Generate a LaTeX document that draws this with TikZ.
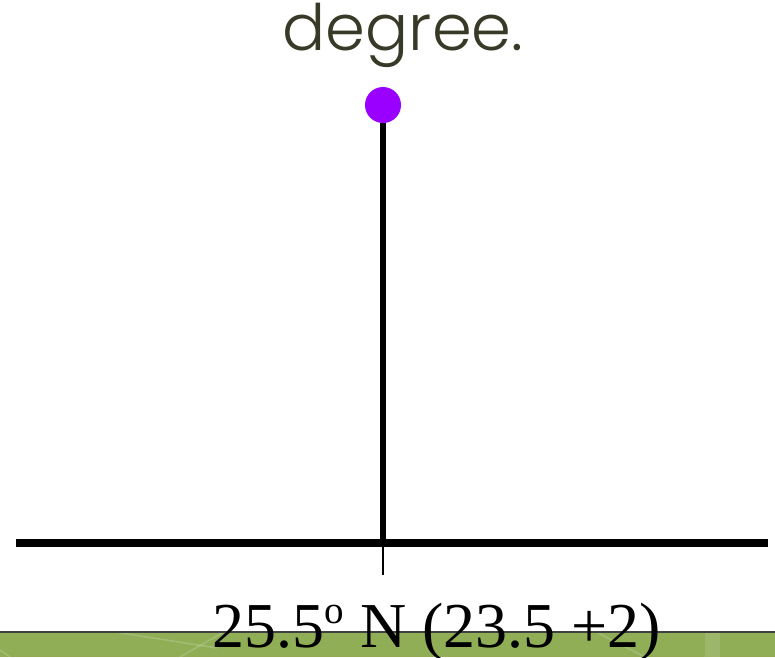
\documentclass[tikz,border=0pt]{standalone}
\usepackage{fontspec}
\usepackage{xcolor}
\usepackage{tikz}
\usetikzlibrary{positioning}
\newfontfamily\capfont{Poppins Light}
\newfontfamily\labfont{Liberation Serif}
\definecolor{dotpurple}{HTML}{9900FF}
\definecolor{capgray}{HTML}{393928}
\definecolor{bandgreen}{HTML}{8FAE55}
\newcommand{\dego}{\raisebox{24pt}{\fontsize{39}{39}\selectfont o}}

\begin{document}
\begin{tikzpicture}[x=1pt,y=-1pt,inner sep=0pt,outer sep=0pt,
  pole/.style={line width=6pt},
  ground/.style={line width=8pt},
  tick/.style={line width=1.6pt},
  streak/.style={white,opacity=0.18,line width=1.5pt}]
\useasboundingbox (0,0) rectangle (775,657);
% green band at the foot
\fill[bandgreen] (0,632) rectangle (775,657);
\fill[white,opacity=0.12] (705,633) rectangle (720,657);
\draw[streak] (115,632) -- (217,648);
\draw[streak] (180,657) -- (222,633);
\draw[streak] (0,650) -- (10,657);
\draw[streak] (598,633) -- (645,657);
\draw[line width=1.6pt,black!75] (0,632) -- (775,632);
% caption
\node[font=\capfont\fontsize{64}{64}\selectfont,text=capgray,anchor=base] (cap) at (403,50) {degree.};
% pole and sun
\node[circle,fill=dotpurple,minimum size=36pt] (sun) at (383,105) {};
\coordinate (base) at (383,543);
\coordinate (gl) at (16,543);
\coordinate (gr) at (768,543);
\coordinate (tickend) at (383,575);
\draw[ground] (gl) -- (gr);
\draw[pole] (sun.south) -- (base);
\draw[tick] (base) -- (tickend);
\node[anchor=base,font=\labfont\fontsize{64}{64}\selectfont] (lat) at (437,647) {25.5\dego{} N (23.5 +2)};
\end{tikzpicture}
\end{document}
